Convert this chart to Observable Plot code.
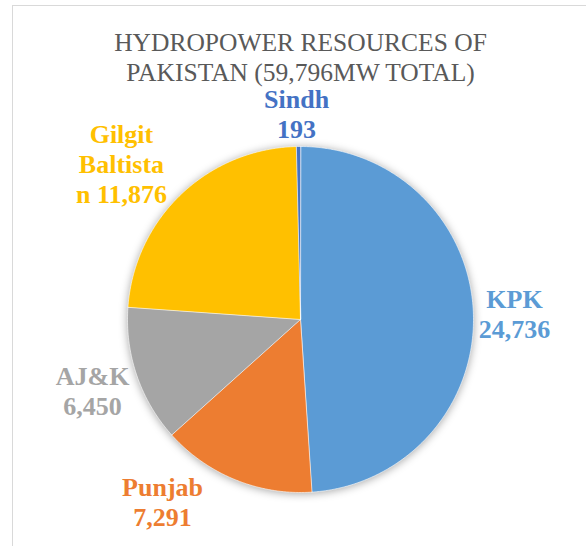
<!DOCTYPE html>
<html><head><meta charset="utf-8">
<script src="https://cdn.jsdelivr.net/npm/d3@7"></script>
<script src="https://cdn.jsdelivr.net/npm/@observablehq/plot@0.6"></script>
<style>
body{margin:0;background:#fff;}
#wrap{position:relative;width:586px;height:546px;overflow:hidden;}
#frame{position:absolute;left:12px;top:5px;width:700px;height:700px;border-left:1.5px solid #d9d9d9;border-top:1.5px solid #d9d9d9;}
#chart{position:absolute;left:0;top:0;}
</style></head><body>
<div id="wrap"><div id="frame"></div><div id="chart"></div></div>
<script>
// ---- data ----
const regions = ["KPK", "Punjab", "AJ&K", "Gilgit Baltistan", "Sindh"];
const capacityMW = [24736, 7291, 6450, 11876, 193];
const labelLines = [["KPK", "24,736"], ["Punjab", "7,291"], ["AJ&K", "6,450"], ["Gilgit", "Baltista", "n 11,876"], ["Sindh", "193"]];
const sliceColors = ["#5B9BD5", "#ED7D31", "#A5A5A5", "#FFC000", "#4472C4"];
const titleLines = ["HYDROPOWER RESOURCES OF", "PAKISTAN (59,796MW TOTAL)"];

// ---- layout ----
const W = 586, H = 546, cx = 300, cy = 319, R = 173;
const labelRadius = [1.237, 1.324, 1.272, 1.37, 1.185];   // in pie radii
const labelNudgeDeg = [0.6, 14.9, -0.2, -5.4, -0.4];
const labelSize = 26, labelLead = 30;                        // px
const titleSize = 25.5, titleLead = 30, titleFirstMid = 42;  // px from top
const serif = "Liberation Serif";

const table = regions.map((name, i) => ({name, value: capacityMW[i], i}));
const arcs = d3.pie().value(d => d.value).sort(null).startAngle(0).endAngle(2 * Math.PI)(table);

// polygon outline of each slice (unit circle, angle clockwise from up)
const slicePts = [];
for (const a of arcs) {
  const n = Math.max(2, Math.ceil((a.endAngle - a.startAngle) / (Math.PI / 360)));
  slicePts.push({name: a.data.name, x: 0, y: 0});
  for (let k = 0; k <= n; k++) {
    const t = a.startAngle + (a.endAngle - a.startAngle) * k / n;
    slicePts.push({name: a.data.name, x: Math.sin(t), y: Math.cos(t)});
  }
}
// one row per label line (single-line texts)
const labelRows = [];
for (const a of arcs) {
  const i = a.data.i, lines = labelLines[i];
  const t = (a.startAngle + a.endAngle) / 2 + labelNudgeDeg[i] * Math.PI / 180;
  const x0 = labelRadius[i] * Math.sin(t), y0 = labelRadius[i] * Math.cos(t);
  lines.forEach((s, k) => {
    const off = (k - (lines.length - 1) / 2) * labelLead / R;
    labelRows.push({name: a.data.name, text: s, x: x0, y: y0 - off});
  });
}
const titleRows = titleLines.map((s, k) => ({text: s, x: 0, y: (cy - titleFirstMid - k * titleLead) / R}));

const svg = Plot.plot({
  width: W, height: H,
  margin: 0,
  x: {domain: [-cx / R, (W - cx) / R], axis: null},
  y: {domain: [-(H - cy) / R, cy / R], axis: null},
  color: {domain: regions, range: sliceColors},
  marks: [
    Plot.line(slicePts, {x: "x", y: "y", z: "name", fill: "name", stroke: "white", strokeWidth: 0.6, curve: "linear-closed"}),
    Plot.text(labelRows, {x: "x", y: "y", text: "text", fill: "name", fontSize: labelSize, fontWeight: "bold", fontFamily: serif, textAnchor: "middle"}),
    Plot.text(titleRows, {x: "x", y: "y", text: "text", fontSize: titleSize, fill: "#595959", fontFamily: serif, textAnchor: "middle"})
  ]
});
svg.style.background = "transparent";
d3.select(svg).select('g[aria-label="line"]').style("filter", "drop-shadow(0px 1px 4px rgba(0,0,0,0.35))");
document.getElementById("chart").appendChild(svg);
</script>
</body></html>
